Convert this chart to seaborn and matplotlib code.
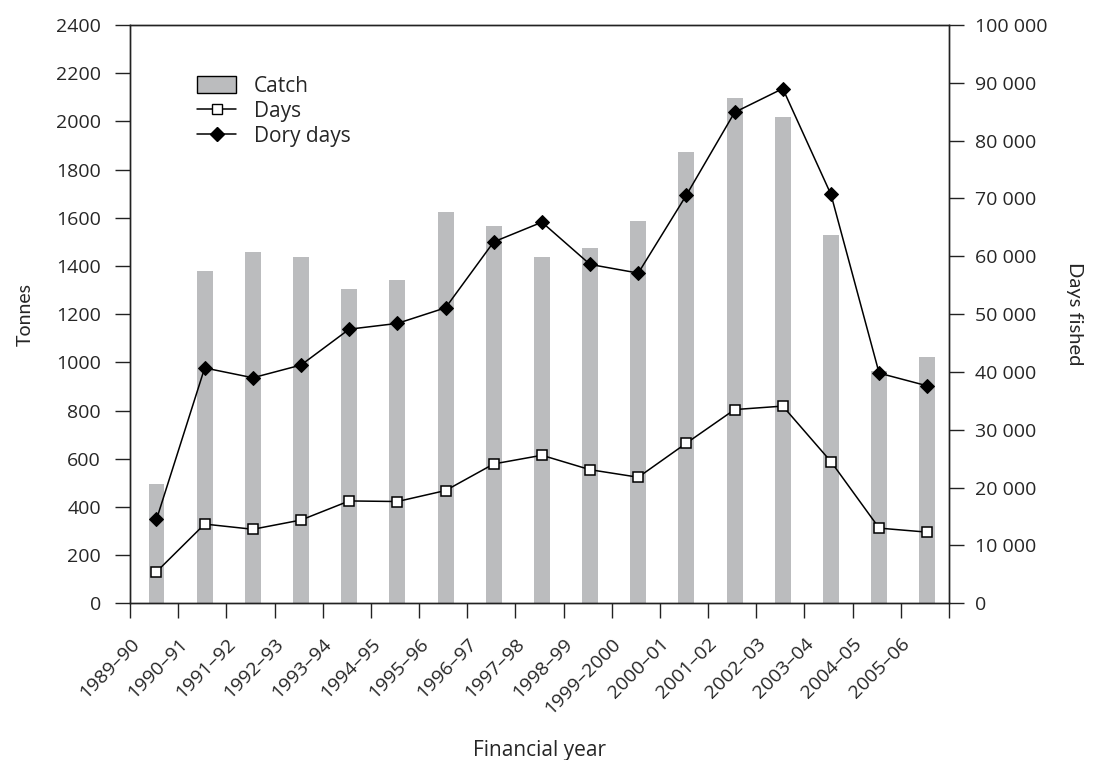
import numpy as np
import pandas as pd
import matplotlib
matplotlib.use("Agg")
import matplotlib.pyplot as plt
from matplotlib.patches import Patch
from matplotlib.lines import Line2D
import matplotlib.ticker as mticker
import matplotlib.transforms as mtransforms
import seaborn as sns

years = ["1989–90", "1990–91", "1991–92", "1992–93", "1993–94", "1994–95",
         "1995–96", "1996–97", "1997–98", "1998–99", "1999–2000", "2000–01",
         "2001–02", "2002–03", "2003–04", "2004–05", "2005–06"]
catch_t = [494, 1380, 1459, 1437, 1305, 1343, 1623, 1566, 1437, 1474, 1587,
           1872, 2095, 2020, 1528, 966, 1023]
days = [5450, 13700, 12800, 14400, 17700, 17600, 19500, 24100, 25600, 23100,
        21800, 27700, 33500, 34100, 24500, 13000, 12300]
dory_days = [14500, 40700, 39000, 41200, 47400, 48400, 51100, 62500, 65900,
             58600, 57100, 70600, 84900, 89000, 70700, 39800, 37600]

sns.set_style("ticks")
plt.rcParams["font.family"] = ["Open Sans", "DejaVu Sans"]

n = len(years)
pos = np.arange(n) + 0.55
df = pd.DataFrame({"pos": pos, "catch": catch_t, "days": days, "dory": dory_days})

fig = plt.figure(figsize=(10.93, 7.6), dpi=100)
ax = fig.add_axes([130 / 1093, 1 - 603.3 / 760, 819 / 1093, (603.3 - 25) / 760])

sns.barplot(data=df, x="pos", y="catch", native_scale=True, width=0.33,
            color="#bbbcbe", saturation=1, edgecolor="none", linewidth=0, ax=ax)
ax.set_xlim(0, n)
ax.set_ylim(0, 2400)
ax.set_yticks(np.arange(0, 2401, 200))
ax.set_xticks(np.arange(0, n + 1))
ax.set_xticklabels(years + [""], rotation=45, ha="right", va="top",
                   rotation_mode="anchor")
offset = mtransforms.ScaledTranslation(6 / 100, 0, fig.dpi_scale_trans)
for lab in ax.get_xticklabels():
    lab.set_transform(lab.get_transform() + offset)

ax2 = ax.twinx()
sns.lineplot(data=df, x="pos", y="dory", ax=ax2, color="black", linewidth=1.1,
             marker="D", markersize=7, markerfacecolor="black",
             markeredgecolor="black", zorder=3)
sns.lineplot(data=df, x="pos", y="days", ax=ax2, color="black", linewidth=1.1,
             marker="s", markersize=7, markerfacecolor="white",
             markeredgecolor="black", markeredgewidth=1.1, zorder=3)
ax2.set_ylim(0, 100000)
ax2.set_yticks(np.arange(0, 100001, 10000))
ax2.yaxis.set_major_formatter(
    mticker.FuncFormatter(lambda v, p: f"{int(v):,}".replace(",", " ")))
ax2.set_xlim(0, n)

for a in (ax, ax2):
    for s in a.spines.values():
        s.set_visible(True)
        s.set_color("#222222")
        s.set_linewidth(1.0)
ax.tick_params(axis="y", length=10.5, width=1, pad=10.5, labelsize=14, color="#222222")
ax.tick_params(axis="x", length=10.5, width=1, pad=12, labelsize=14, color="#222222")
ax2.tick_params(axis="y", length=10.5, width=1, pad=8.5, labelsize=14, color="#222222")

ax.set_xlabel("Financial year", fontsize=15)
ax.xaxis.set_label_coords(0.5, -0.236)
ax.set_ylabel("Tonnes", fontsize=14, family=["Lato", "DejaVu Sans"], labelpad=16)
ax2.set_ylabel("Days fished", fontsize=14.5, rotation=270, labelpad=25,
               family=["Lato", "DejaVu Sans"])

handles = [
    Patch(facecolor="#bbbcbe", edgecolor="black", linewidth=1.0, label="Catch"),
    Line2D([], [], color="black", linewidth=1.1, marker="s", markersize=7,
           markerfacecolor="white", markeredgecolor="black", label="Days"),
    Line2D([], [], color="black", linewidth=1.1, marker="D", markersize=7,
           markerfacecolor="black", label="Dory days"),
]
ax2.legend(handles=handles, loc="upper left", bbox_to_anchor=(0.072, 0.927),
           frameon=False, fontsize=15, handlelength=1.85, handleheight=0.85,
           labelspacing=0.2, handletextpad=0.85, borderaxespad=0)

fig.savefig("out.png", dpi=100)
